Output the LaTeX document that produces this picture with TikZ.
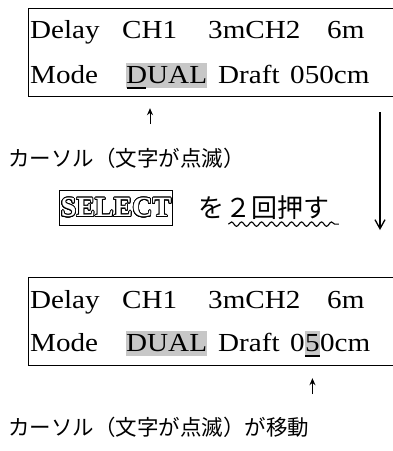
\documentclass[tikz,border=0pt]{standalone}
\usepackage{fontspec}
\setmainfont{Liberation Serif}
\newfontfamily\lcdfont[FakeStretch=1.12]{Liberation Serif}
\newfontfamily\jpfont{Noto Sans CJK JP}
\usepackage[copies]{contour}
\contourlength{0.8pt}
\contournumber{24}
\usetikzlibrary{positioning, arrows.meta, decorations.pathmorphing}

\begin{document}
\begin{tikzpicture}[
    x=1pt, y=-1pt,
    % --- STYLES ---
    lcd/.style={draw, line width=1.2pt, minimum width=380pt, minimum height=88pt, anchor=north west, inner sep=0pt},
    word/.style={anchor=base west, inner sep=0pt, font=\lcdfont\fontsize{26}{26}\selectfont},
    blinkbox/.style={fill=black!22, inner xsep=0pt, inner ysep=3pt, text depth=2pt}, % blinking character
    cursorbar/.style={line width=2pt},
    jp/.style={anchor=west, inner sep=0pt, font=\jpfont\fontsize{21.5}{22}\selectfont},
    jpbig/.style={jp, font=\jpfont\fontsize{26}{26}\selectfont},
    keybox/.style={draw, line width=1pt, minimum width=113pt, minimum height=35pt, inner sep=0pt, font=\bfseries\fontsize{28}{28}\selectfont},
    uparrow/.style={-{Stealth[length=7pt,width=6pt]}, line width=1pt},
    downarrow/.style={-{Straight Barb[length=9pt,width=10pt]}, line width=1.3pt},
    wavy/.style={decorate, decoration={snake, amplitude=2.2pt, segment length=10pt}, line width=1.1pt}
]
\useasboundingbox (0,0) rectangle (393,451);
\clip (0,0) rectangle (393,451);

% --- 1. DISPLAY BEFORE ---
\node (lcd1) [lcd] at (28,8) {};
\node (dly1) [word] at (30,38) {Delay};
\node (ch1a) [word] at (122,38) {CH1};
\node (ch2a) [word] at (208,38) {3mCH2};
\node (len1) [word] at (327,38) {6m};
\node (mode1) [word] at (30,83) {Mode};
\node (dual1) [word, blinkbox] at (126,83) {DUAL};
\node (draft1) [word] at (218,83) {Draft};
\node (val1) [word] at (290,83) {050cm};
\draw [cursorbar] ([xshift=1pt,yshift=-5pt]dual1.base west) -- ++(19,0);

% --- 2. KEY OPERATION ---
\node (cur1) [jp] at (8,158) {カーソル（文字が点滅）};
\node (sel) [keybox] at (116,208) {\textcolor{white}{\contour{black}{SELECT}}};
\node (wo) [jpbig, right=25pt of sel] {を};
\node (twice) [jpbig, right=1pt of wo] {２回押す};
\draw [wavy] ([yshift=-4pt,xshift=3pt]twice.south west) -- ([yshift=-4pt,xshift=9pt]twice.south east);

% --- 3. DISPLAY AFTER ---
\node (lcd2) [lcd] at (28,277) {};
\node (dly2) [word] at (30,308) {Delay};
\node (ch1b) [word] at (122,308) {CH1};
\node (ch2b) [word] at (208,308) {3mCH2};
\node (len2) [word] at (327,308) {6m};
\node (mode2) [word] at (30,351) {Mode};
\node (dual2) [word, blinkbox] at (126,351) {DUAL};
\node (draft2) [word] at (218,351) {Draft};
\node (zero2) [word] at (290,351) {0};
\node (five2) [word, blinkbox] at (zero2.base east) {5};
\node (cm2) [word] at (five2.base east) {0cm};
\draw [cursorbar] ([yshift=-5pt]five2.base west) -- ([yshift=-5pt]five2.base east);
\node (cur2) [jp] at (8,427) {カーソル（文字が点滅）が移動};

% --- FLOWS ---
\coordinate (arw1) at (150,124);
\draw [uparrow] (arw1) -- ([yshift=-11pt]arw1 |- lcd1.south);
\coordinate (go1) at (380,112);
\coordinate (go2) at (380,230);
\draw [downarrow] (go1) -- (go2);
\coordinate (arw2) at (five2.south |- 0,394);
\draw [uparrow] (arw2) -- ([yshift=-12pt]arw2 |- lcd2.south);

\end{tikzpicture}
\end{document}
